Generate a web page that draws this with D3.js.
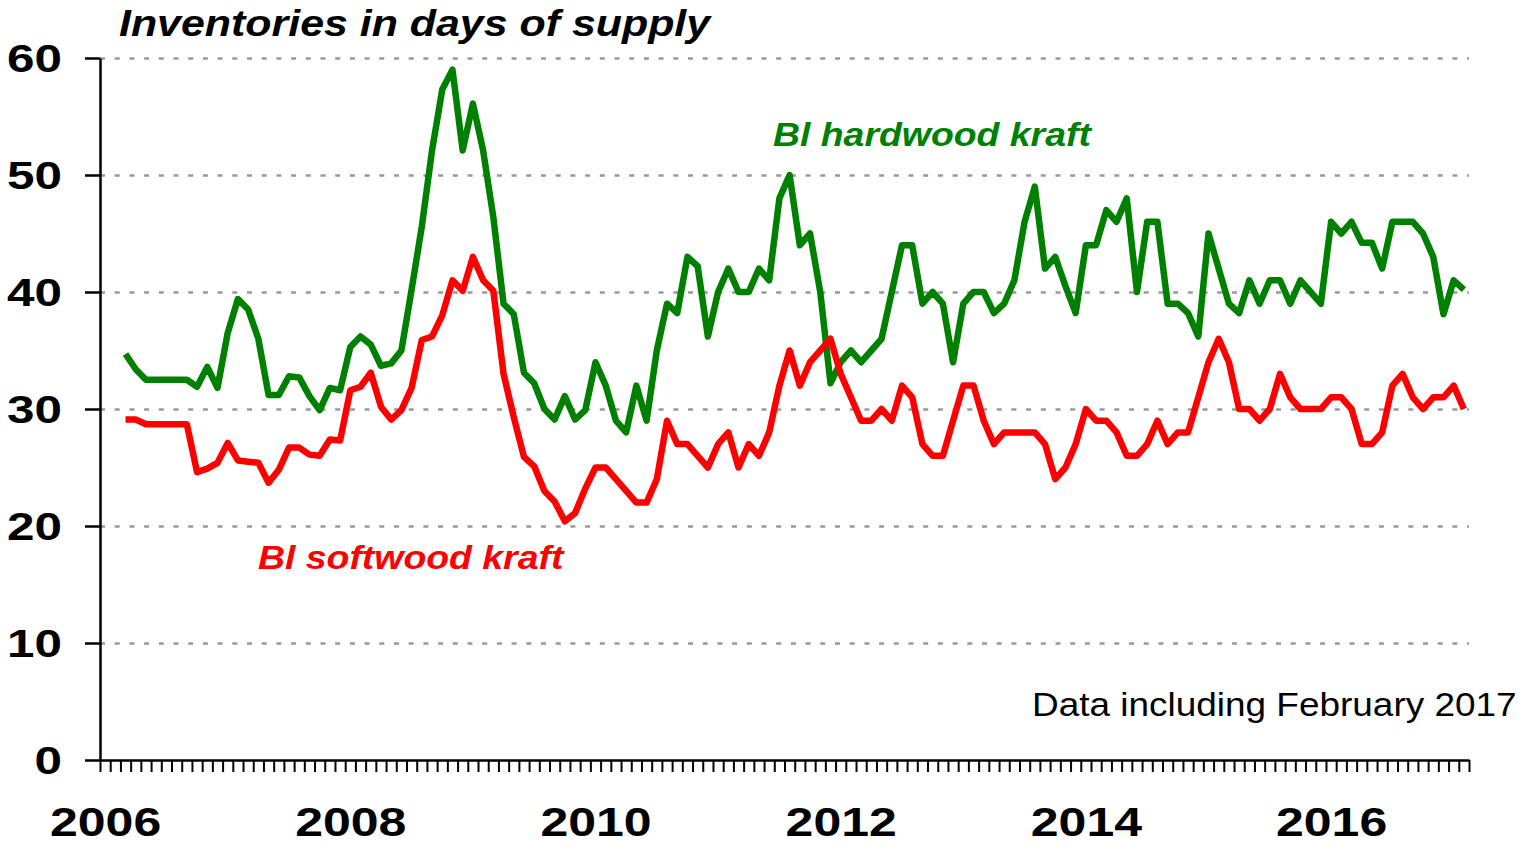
<!DOCTYPE html>
<html>
<head>
<meta charset="utf-8">
<script src="https://cdn.jsdelivr.net/npm/d3@7"></script>
<style>
  body { margin: 0; background: #fff; }
  svg { display: block; font-family: "Liberation Sans", Arial, sans-serif; }
</style>
</head>
<body>
<svg id="chart" width="1520" height="845"></svg>
<script>
// month index 0 = Jan 2006, data runs Mar 2006 (2) .. Feb 2017 (133)
const firstMonth = 2;
const lastMonth = 133;

// BI hardwood kraft, days of supply
const hardwood = [
  34.7, 33.4, 32.5, 32.5, 32.5, 32.5, 32.5, 31.9, 33.6, 31.8,
  36.5, 39.4, 38.5, 36.0, 31.2, 31.2, 32.8, 32.7, 31.1, 29.9, 31.8, 31.6,
  35.3, 36.2, 35.5, 33.7, 33.9, 35.0, 40.2, 45.6, 52.1, 57.3, 59.0, 52.1,
  56.1, 52.1, 46.4, 39.0, 38.1, 33.1, 32.2, 30.0, 29.1, 31.1, 29.1, 29.9,
  34, 32, 29, 28, 32, 29, 35, 39, 38.2, 43, 42.2, 36.2,
  40, 42, 40, 40, 42, 41, 48, 50, 44, 45, 40, 32.2,
  34, 35, 34, 35, 36, 40, 44, 44, 39, 40, 39, 34,
  39, 40, 40, 38.2, 39, 41, 46, 49, 42, 43, 40.5, 38.2,
  44, 44, 47, 46, 48, 40, 46, 46, 39, 39, 38.2, 36.2,
  45, 42, 39, 38.2, 41, 39, 41, 41, 39, 41, 40, 39,
  46, 45, 46, 44.2, 44.2, 42, 46, 46, 46, 45, 43, 38.1,
  41, 40.2
];

// BI softwood kraft, days of supply
const softwood = [
  29.1, 29.1, 28.7, 28.7, 28.7, 28.7, 28.7, 24.6, 24.9, 25.4,
  27.1, 25.6, 25.5, 25.4, 23.7, 24.8, 26.7, 26.7, 26.1, 26.0, 27.4, 27.3,
  31.6, 31.9, 33.1, 30.2, 29.1, 29.9, 31.8, 35.9, 36.2, 38.0, 41.0, 40.1,
  43.0, 41.0, 40.1, 33.0, 29.3, 25.9, 25.1, 23.0, 22.1, 20.4, 21.1, 23.2,
  25, 25, 24, 23, 22, 22, 24, 29, 27, 27, 26, 25,
  27, 28, 25, 27, 26, 28, 32, 35, 32, 34, 35, 36,
  33, 31, 29, 29, 30, 29, 32, 31, 27, 26, 26, 29,
  32, 32, 29, 27, 28, 28, 28, 28, 27, 24, 25, 27,
  30, 29, 29, 28, 26, 26, 27, 29, 27, 28, 28, 31,
  34, 36, 34, 30, 30, 29, 30, 33, 31, 30, 30, 30,
  31, 31, 30, 27, 27, 28, 32, 33, 31, 30, 31, 31,
  32, 30
];

const yTicks = [0, 10, 20, 30, 40, 50, 60];
const yearLabels = ["2006", "2008", "2010", "2012", "2014", "2016"];

const svg = d3.select("#chart");
const plotL = 100, plotR = 1469, plotT = 58, plotB = 760;

const x = d3.scaleLinear().domain([-0.5, lastMonth + 0.5]).range([plotL, plotR]);
const y = d3.scaleLinear().domain([0, 60]).range([plotB, plotT]);

const fam = '"Liberation Sans", Arial, sans-serif';

// dashed gridlines
const grid = svg.append("g")
  .attr("transform", "translate(" + plotL + ",0)")
  .call(d3.axisLeft(y).tickValues(yTicks.slice(1)).tickSize(-(plotR - plotL)).tickFormat(""));
grid.select(".domain").remove();
grid.selectAll("line")
  .attr("stroke", "#999")
  .attr("stroke-width", 2.5)
  .attr("stroke-dasharray", "5,9.7");

// series
const line = d3.line()
  .x((d, i) => x(firstMonth + i))
  .y(d => y(d));

svg.append("path")
  .datum(hardwood)
  .attr("fill", "none")
  .attr("stroke", "#008000")
  .attr("stroke-width", 6.5)
  .attr("stroke-linejoin", "round")
  .attr("d", line);

svg.append("path")
  .datum(softwood)
  .attr("fill", "none")
  .attr("stroke", "#ff0000")
  .attr("stroke-width", 6.5)
  .attr("stroke-linejoin", "round")
  .attr("d", line);

// y axis
const ySx = 1.3;
const yAx = svg.append("g")
  .attr("transform", "translate(" + plotL + ",0)")
  .call(d3.axisLeft(y).tickValues(yTicks).tickSize(15).tickSizeOuter(0));
yAx.select(".domain").attr("stroke", "#000").attr("stroke-width", 2.5);
yAx.selectAll("line").attr("stroke", "#000").attr("stroke-width", 2.5);
yAx.selectAll("text")
  .attr("font-family", fam)
  .attr("font-size", 38)
  .attr("font-weight", "bold")
  .attr("fill", "#000")
  .attr("text-anchor", "end")
  .attr("x", -38 / ySx)
  .attr("dy", "0.36em")
  .attr("transform", "scale(" + ySx + ",1)");

// x axis, monthly ticks
const monthEdges = d3.range(0, lastMonth + 2).map(m => m - 0.5);
const xAx = svg.append("g")
  .attr("transform", "translate(0," + plotB + ")")
  .call(d3.axisBottom(x).tickValues(monthEdges).tickSize(12).tickSizeOuter(0).tickFormat(""));
xAx.select(".domain").attr("stroke", "#000").attr("stroke-width", 2.5);
xAx.selectAll("line").attr("stroke", "#000").attr("stroke-width", 2);

// year labels sit under January of each even year
const xSx = 1.25;
const yearAx = svg.append("g")
  .attr("transform", "translate(0," + plotB + ")")
  .call(d3.axisBottom(x).tickValues(yearLabels.map((d, i) => i * 24)).tickSize(0)
    .tickFormat((d, i) => yearLabels[i]));
yearAx.select(".domain").remove();
yearAx.selectAll("text")
  .attr("font-family", fam)
  .attr("font-size", 40)
  .attr("font-weight", "bold")
  .attr("fill", "#000")
  .attr("y", 76)
  .attr("dy", 0)
  .attr("transform", "scale(" + xSx + ",1)");

// text labels
function label(txt, xPos, yPos, size, sx, color, italic, weight) {
  svg.append("text")
    .attr("transform", "translate(" + xPos + "," + yPos + ") scale(" + sx + ",1)")
    .attr("font-family", fam)
    .attr("font-size", size)
    .attr("font-weight", weight)
    .attr("font-style", italic ? "italic" : "normal")
    .attr("fill", color)
    .text(txt);
}

label("Inventories in days of supply", 119, 36, 37, 1.16, "#000", true, "bold");
label("Bl hardwood kraft", 773, 146, 34, 1.1, "#008000", true, "bold");
label("Bl softwood kraft", 258, 569, 34, 1.1, "#ff0000", true, "bold");
label("Data including February 2017", 1032, 716, 33, 1.12, "#000", false, "normal");
</script>
</body>
</html>
